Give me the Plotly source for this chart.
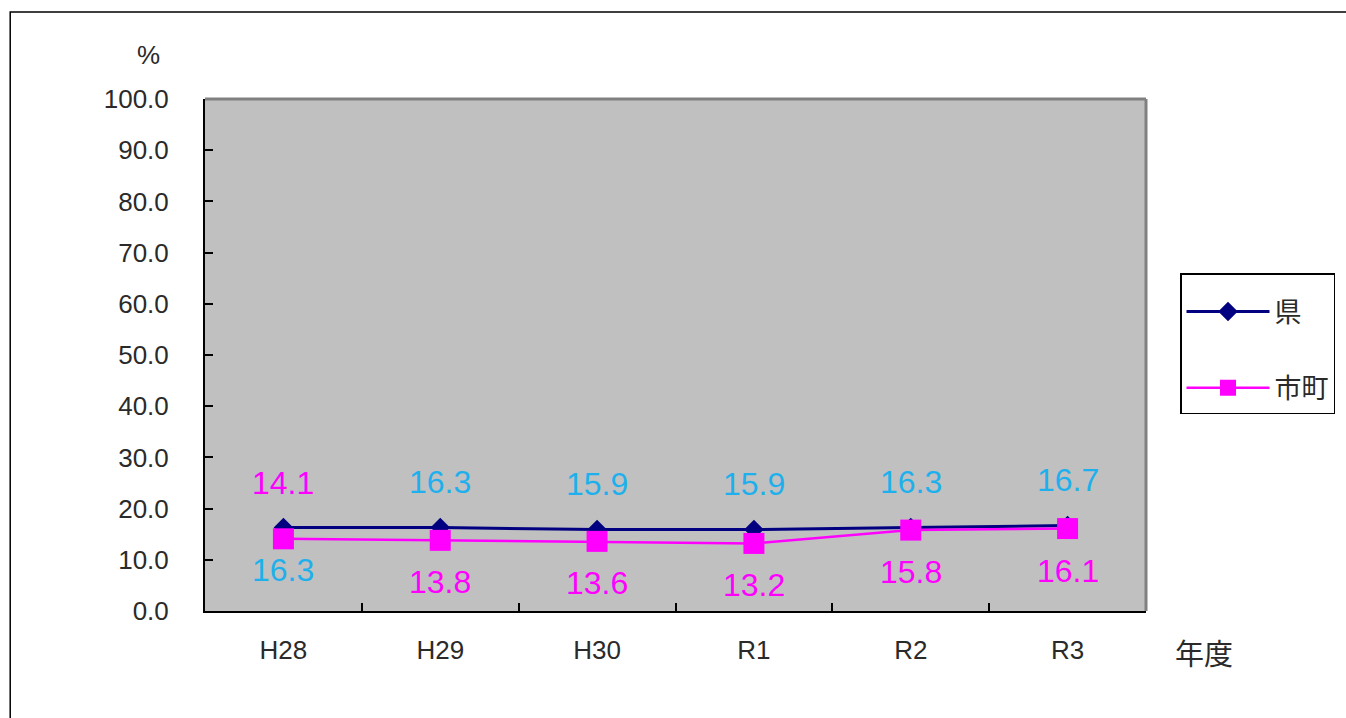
import plotly.graph_objects as go

# ---- data ----
categories = ["H28", "H29", "H30", "R1", "R2", "R3"]
pref_values = [16.3, 16.3, 15.9, 15.9, 16.3, 16.7]
city_values = [14.1, 13.8, 13.6, 13.2, 15.8, 16.1]
y_tick_values = [0, 10, 20, 30, 40, 50, 60, 70, 80, 90, 100]
pref_name = "県"
city_name = "市町"
y_unit = "%"
x_unit = "年度"

# ---- styles ----
PREF_COLOR = "#000080"
CITY_COLOR = "#FF00FF"
PREF_LABEL_COLOR = "#1EB0EC"
PLOT_BG = "#C0C0C0"
TEXT_COLOR = "#2a2a2a"
FONT = "Liberation Sans, Arial, Noto Sans CJK JP, sans-serif"
CJK_FONT = "Noto Sans CJK JP, sans-serif"
# whether the prefecture label sits above its point (city label goes opposite side)
pref_label_above = [False, True, True, True, True, True]
LABEL_UP = 46
LABEL_DOWN = 42

W, H = 1346, 718
ML, MR, MT, MB = 205, 199, 99, 107
PW, PH = W - ML - MR, H - MT - MB


def px_x(p):
    return (p - ML) / PW


def px_y(p):
    return (H - MB - p) / PH


fig = go.Figure()
fig.add_trace(go.Scatter(
    x=categories, y=pref_values, mode="lines+markers", name=pref_name,
    legendgroup="pref",
    line=dict(color=PREF_COLOR, width=3),
    marker=dict(symbol="diamond", size=15, color=PREF_COLOR),
))
fig.add_trace(go.Scatter(
    x=categories, y=city_values, mode="lines+markers", name=city_name,
    legendgroup="city",
    line=dict(color=CITY_COLOR, width=2.5),
    marker=dict(symbol="square", size=21, color=CITY_COLOR),
))

annotations = []
for cat, pv, cv, above in zip(categories, pref_values, city_values, pref_label_above):
    annotations.append(dict(
        x=cat, y=pv, xref="x", yref="y", text=f"{pv:.1f}", showarrow=False,
        yanchor="middle", xanchor="center",
        yshift=LABEL_UP if above else -LABEL_DOWN,
        font=dict(family=FONT, size=32, color=PREF_LABEL_COLOR),
    ))
    annotations.append(dict(
        x=cat, y=cv, xref="x", yref="y", text=f"{cv:.1f}", showarrow=False,
        yanchor="middle", xanchor="center",
        yshift=-LABEL_DOWN if above else LABEL_UP + 10,
        font=dict(family=FONT, size=32, color=CITY_COLOR),
    ))

annotations.append(dict(
    x=px_x(148), y=px_y(55), xref="paper", yref="paper", text=y_unit,
    xanchor="center", yanchor="middle",
    showarrow=False, font=dict(family=FONT, size=26, color=TEXT_COLOR),
))
annotations.append(dict(
    x=px_x(1205), y=px_y(652), xref="paper", yref="paper", text=x_unit,
    xanchor="center", yanchor="middle",
    showarrow=False, font=dict(family=CJK_FONT, size=29, color=TEXT_COLOR),
))

shapes = [
    # outer frame
    dict(type="rect", xref="paper", yref="paper",
         x0=px_x(10), y0=px_y(725), x1=px_x(1352), y1=px_y(12),
         line=dict(color="#000", width=1.5), fillcolor="rgba(0,0,0,0)", layer="below"),
    # plot area top/right edges (gray)
    dict(type="line", xref="paper", yref="paper", x0=0, x1=1, y0=1, y1=1,
         line=dict(color="#808080", width=3)),
    dict(type="line", xref="paper", yref="paper", x0=1, x1=1, y0=0, y1=1,
         line=dict(color="#808080", width=3)),
]

fig.update_layout(
    width=W, height=H, autosize=False,
    margin=dict(l=ML, r=MR, t=MT, b=MB, pad=0),
    paper_bgcolor="white", plot_bgcolor=PLOT_BG,
    font=dict(family=FONT, color=TEXT_COLOR),
    showlegend=True,
    legend=dict(
        x=px_x(1180), y=px_y(273), xanchor="left", yanchor="top",
        bordercolor="#000", borderwidth=1.5, bgcolor="white",
        font=dict(family=CJK_FONT, size=27, color=TEXT_COLOR),
        title=dict(text=" ", font=dict(size=10)),
        tracegroupgap=38, itemwidth=83,
    ),
    annotations=annotations,
    shapes=shapes,
)
fig.update_xaxes(
    type="category", range=[-0.5, len(categories) - 0.5],
    showline=True, linecolor="#000", linewidth=2,
    ticks="inside", tickson="boundaries", ticklen=8, tickwidth=1.5, tickcolor="#000",
    showgrid=False, zeroline=False,
    tickfont=dict(family=FONT, size=26, color=TEXT_COLOR),
    ticklabelstandoff=15,
)
fig.update_yaxes(
    range=[0, 100], tickvals=y_tick_values, tickformat=".1f",
    showline=True, linecolor="#000", linewidth=2,
    ticks="inside", ticklen=8, tickwidth=1.5, tickcolor="#000",
    showgrid=False, zeroline=False,
    tickfont=dict(family=FONT, size=26, color=TEXT_COLOR),
    ticklabelstandoff=29,
)

fig.write_html(
    "out.html",
    config={"displayModeBar": False},
    post_script="document.body.style.margin='0';document.body.style.overflow='hidden';",
)
